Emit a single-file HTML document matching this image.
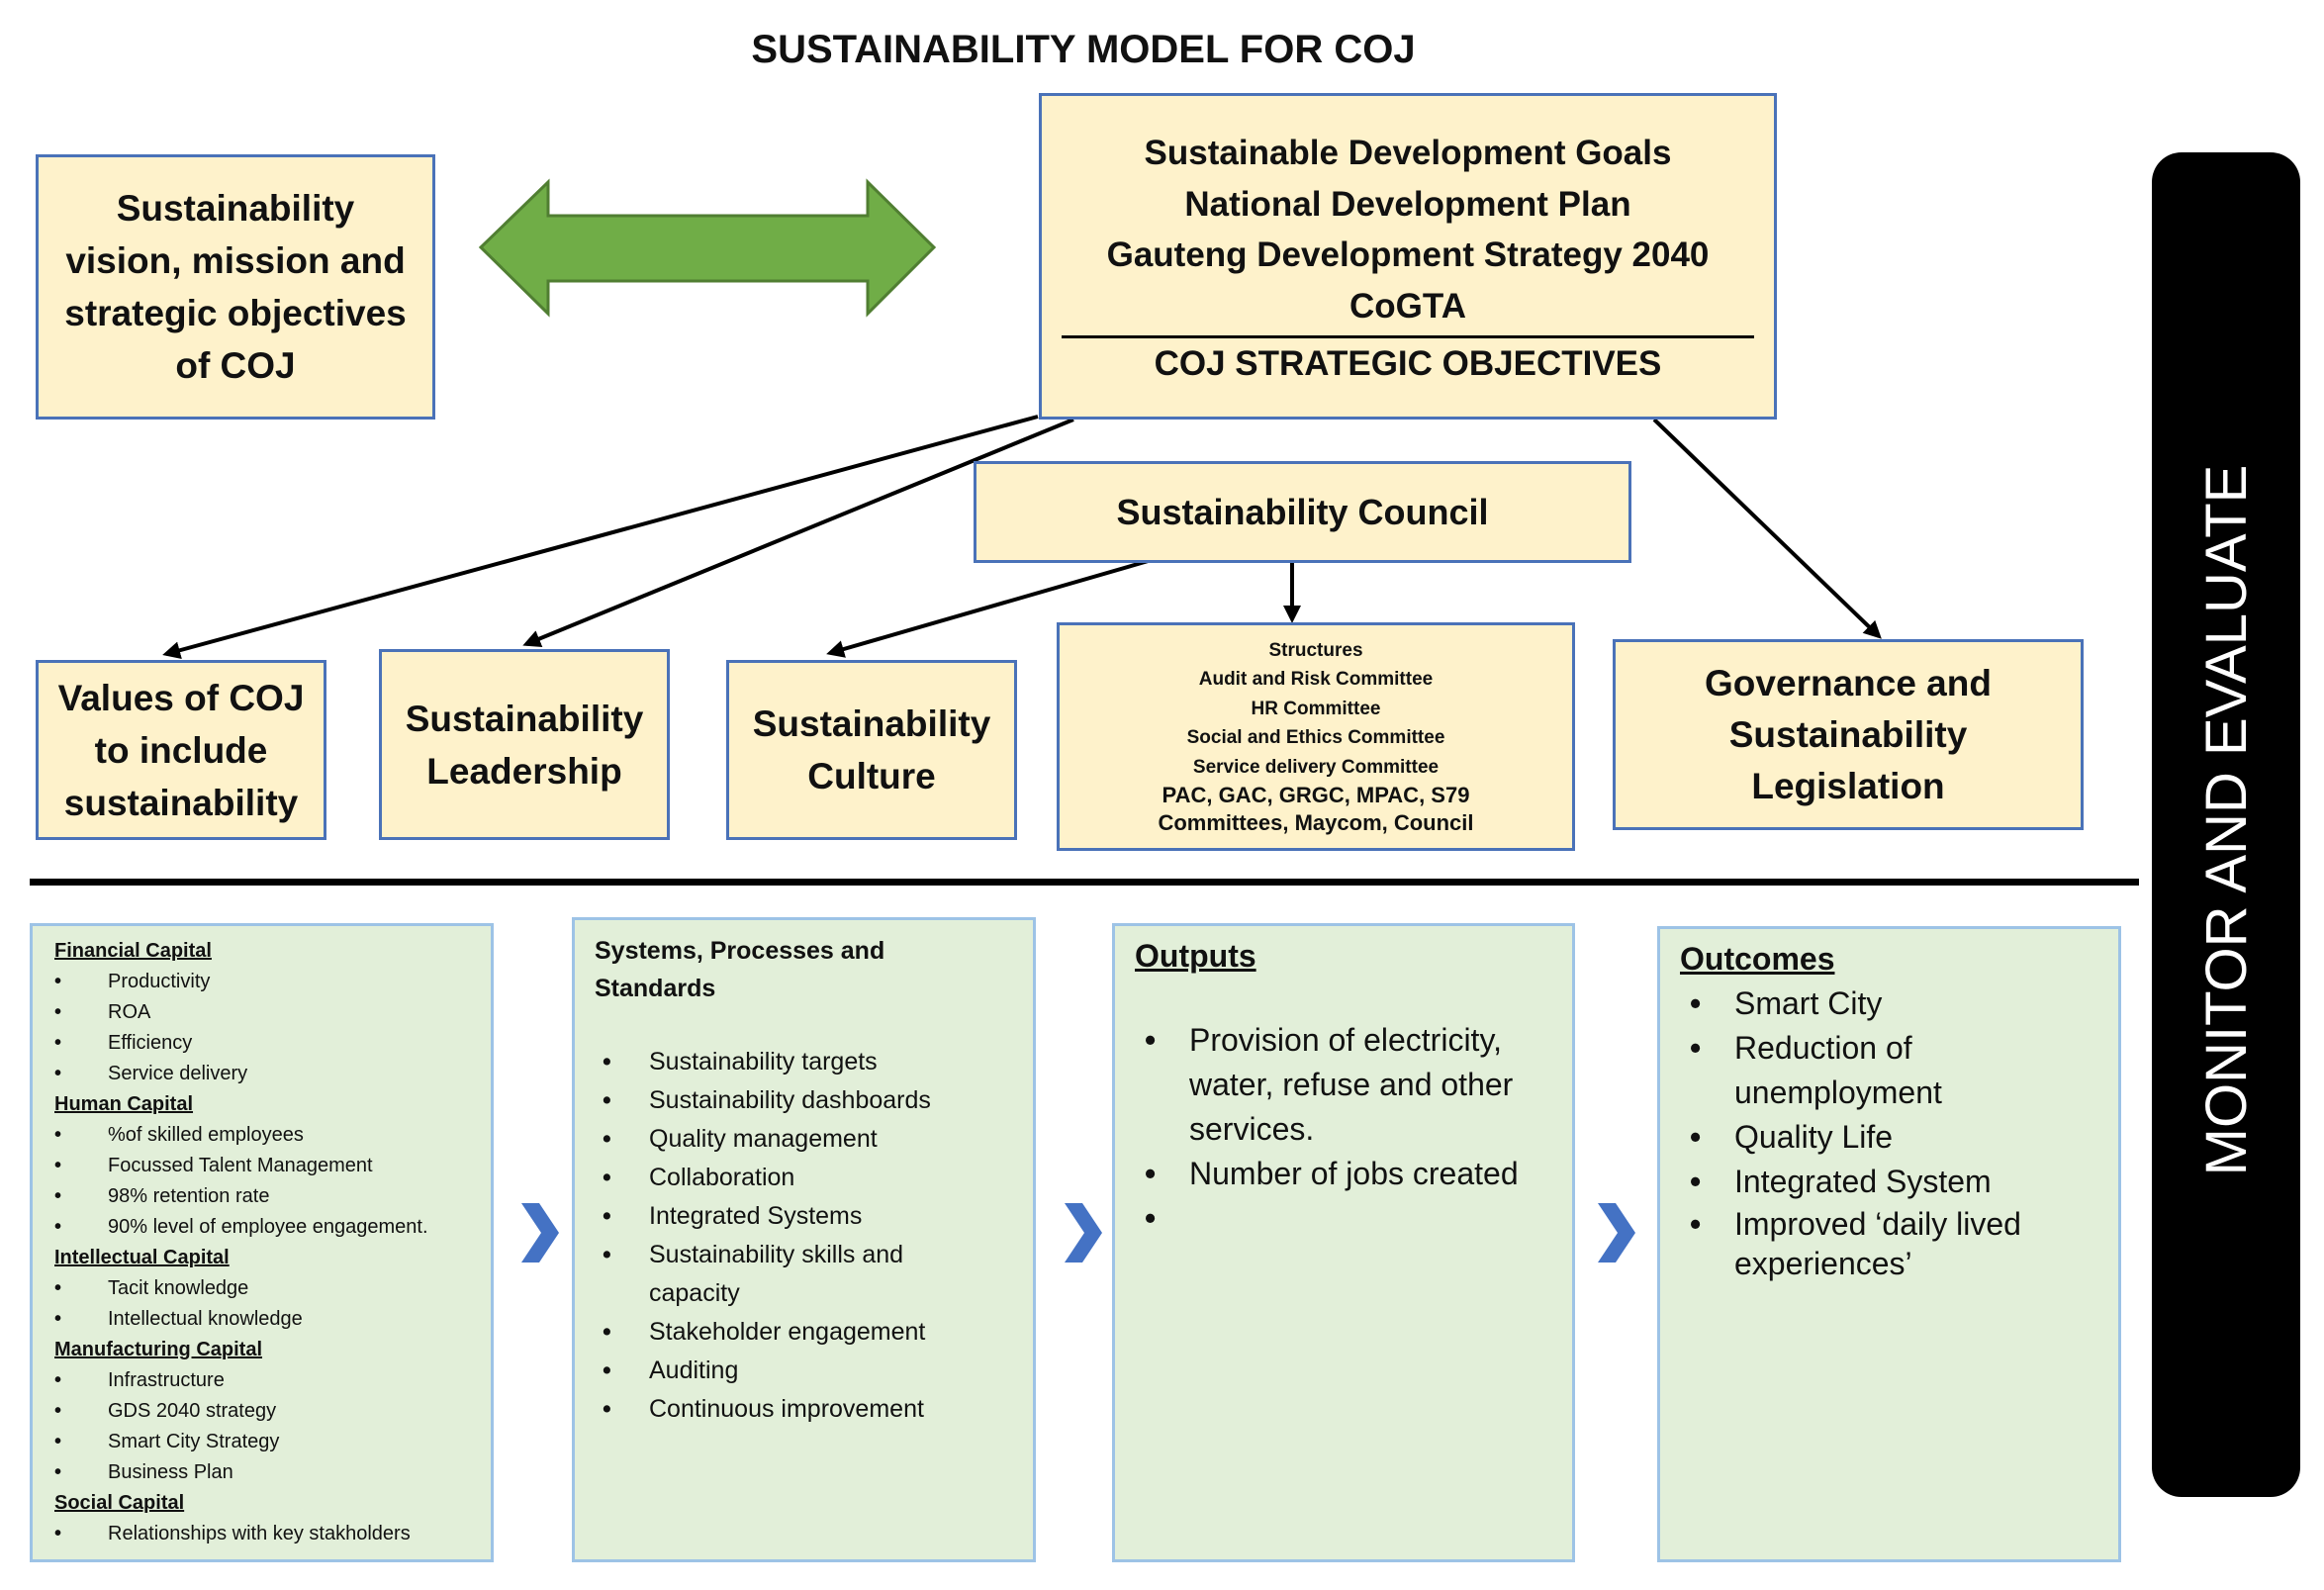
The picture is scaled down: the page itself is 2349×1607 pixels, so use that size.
<!DOCTYPE html>
<html><head><meta charset="utf-8"><style>
body{margin:0;width:2349px;height:1607px;background:#fff;position:relative;overflow:hidden;font-family:"Liberation Sans",sans-serif;color:#111}
.a{position:absolute;box-sizing:border-box}
.y{background:#fef2cb;border:3px solid #4a72b8;display:flex;flex-direction:column;align-items:center;justify-content:center;text-align:center;font-weight:bold}
.g{background:#e2efd9;border:3px solid #9dc3e6}
ul{margin:0;padding:0;list-style:none}
li{position:relative}
li:before{content:"•";position:absolute;font-weight:bold}
.t1 li{padding-left:54px;font-size:20px;line-height:31px}
.t1 li:before{left:0}
.t1 h4{margin:0;font-size:20px;line-height:31px;text-decoration:underline;font-weight:bold}
.t2 li{padding-left:55px;font-size:25px;line-height:39px}
.t2 li:before{left:8px}
.t3 li{padding-left:55px;font-size:32px;line-height:45px}
.t3 li:before{left:10px}
</style></head><body>
<div class="a" style="left:0;top:28px;width:2190px;text-align:center;font-size:40px;font-weight:bold">SUSTAINABILITY MODEL FOR COJ</div>

<div class="a y" style="left:36px;top:156px;width:404px;height:268px;font-size:37px;line-height:53px">Sustainability<br>vision, mission and<br>strategic objectives<br>of COJ</div>

<svg class="a" style="left:0;top:0" width="2349" height="1607">
<defs>
<marker id="ah2" markerWidth="18" markerHeight="18" refX="14" refY="9" orient="auto" markerUnits="userSpaceOnUse" viewBox="0 0 18 18"><path d="M0,0 L18,9 L0,18 z" fill="#000"/></marker></defs>
<polygon points="486,250 554,184 554,218 877,218 877,184 944,250 877,317 877,284 554,284 554,317" fill="#70ad47" stroke="#507e32" stroke-width="3"/>
<g stroke="#000" stroke-width="4" fill="none">
<line x1="1049" y1="421" x2="168" y2="661" marker-end="url(#ah2)"/>
<line x1="1085" y1="424" x2="532" y2="651" marker-end="url(#ah2)"/>
<line x1="1164" y1="566" x2="839" y2="660" marker-end="url(#ah2)"/>
<line x1="1306" y1="569" x2="1306" y2="626" marker-end="url(#ah2)"/>
<line x1="1672" y1="424" x2="1899" y2="643" marker-end="url(#ah2)"/>
</g>
<rect x="30" y="888" width="2132" height="7" fill="#000"/>
<g fill="#4472c4">
<polygon points="527,1216 545,1216 565,1246 545,1276 527,1276 547,1246"/>
<polygon points="1076,1216 1094,1216 1114,1246 1094,1276 1076,1276 1096,1246"/>
<polygon points="1615,1216 1633,1216 1653,1246 1633,1276 1615,1276 1635,1246"/>
</g>
</svg>

<div class="a y" style="left:1050px;top:94px;width:746px;height:330px;font-size:35px;line-height:51.5px;justify-content:flex-start;padding-top:32px">
<div>Sustainable Development Goals</div><div>National Development Plan</div><div>Gauteng Development Strategy 2040</div><div>CoGTA</div>
<div style="border-top:3px solid #000;width:700px;margin-top:4px;line-height:52px">COJ STRATEGIC OBJECTIVES</div></div>

<div class="a y" style="left:984px;top:466px;width:665px;height:103px;font-size:36px">Sustainability Council</div>

<div class="a y" style="left:36px;top:667px;width:294px;height:182px;font-size:37px;line-height:53px">Values of COJ<br>to include<br>sustainability</div>
<div class="a y" style="left:383px;top:656px;width:294px;height:193px;font-size:37px;line-height:53px">Sustainability<br>Leadership</div>
<div class="a y" style="left:734px;top:667px;width:294px;height:182px;font-size:37px;line-height:53px">Sustainability<br>Culture</div>
<div class="a y" style="left:1068px;top:629px;width:524px;height:231px;font-size:19px;line-height:29.5px"><div>Structures</div><div>Audit and Risk Committee</div><div>HR Committee</div><div>Social and Ethics Committee</div><div>Service delivery Committee</div><div style="font-size:22px;line-height:28px">PAC, GAC, GRGC, MPAC, S79<br>Committees, Maycom, Council</div></div>
<div class="a y" style="left:1630px;top:646px;width:476px;height:193px;font-size:37px;line-height:52px">Governance and<br>Sustainability<br>Legislation</div>

<div class="a" style="left:2175px;top:154px;width:150px;height:1359px;background:#000;border-radius:30px"></div>
<div class="a" style="left:2251px;top:829px;width:0;height:0"><div style="position:absolute;left:-400px;top:-35px;width:800px;text-align:center;color:#fff;font-size:58px;line-height:70px;transform:rotate(-90deg)">MONITOR AND EVALUATE</div></div>

<div class="a g t1" style="left:30px;top:933px;width:469px;height:646px;padding:10px 20px 0 22px">
<h4>Financial Capital</h4><ul><li>Productivity</li><li>ROA</li><li>Efficiency</li><li>Service delivery</li></ul>
<h4>Human Capital</h4><ul><li>%of skilled employees</li><li>Focussed Talent Management</li><li>98% retention rate</li><li>90% level of employee engagement.</li></ul>
<h4>Intellectual Capital</h4><ul><li>Tacit knowledge</li><li>Intellectual knowledge</li></ul>
<h4>Manufacturing Capital</h4><ul><li>Infrastructure</li><li>GDS 2040 strategy</li><li>Smart City Strategy</li><li>Business Plan</li></ul>
<h4>Social Capital</h4><ul><li>Relationships with key stakholders</li></ul></div>

<div class="a g t2" style="left:578px;top:927px;width:469px;height:652px;padding:12px 80px 0 20px">
<div style="font-weight:bold;font-size:25px;line-height:38px;margin-bottom:36px">Systems, Processes and<br>Standards</div>
<ul><li>Sustainability targets</li><li>Sustainability dashboards</li><li>Quality management</li><li>Collaboration</li><li>Integrated Systems</li><li>Sustainability skills and capacity</li><li>Stakeholder engagement</li><li>Auditing</li><li>Continuous improvement</li></ul></div>

<div class="a g t3" style="left:1124px;top:933px;width:468px;height:646px;padding:8px 0 0 20px">
<div style="font-weight:bold;text-decoration:underline;font-size:32px;line-height:45px;margin-bottom:40px">Outputs</div>
<ul><li>Provision of electricity, water, refuse and other services.</li><li>Number of jobs created</li><li>&nbsp;</li></ul></div>

<div class="a g t3" style="left:1675px;top:936px;width:469px;height:643px;padding:8px 0 0 20px">
<div style="font-weight:bold;text-decoration:underline;font-size:32px;line-height:45px">Outcomes</div>
<ul><li>Smart City</li><li>Reduction of unemployment</li><li>Quality Life</li><li>Integrated System</li><li style="line-height:40px">Improved ‘daily lived experiences’</li></ul></div>
</body></html>
